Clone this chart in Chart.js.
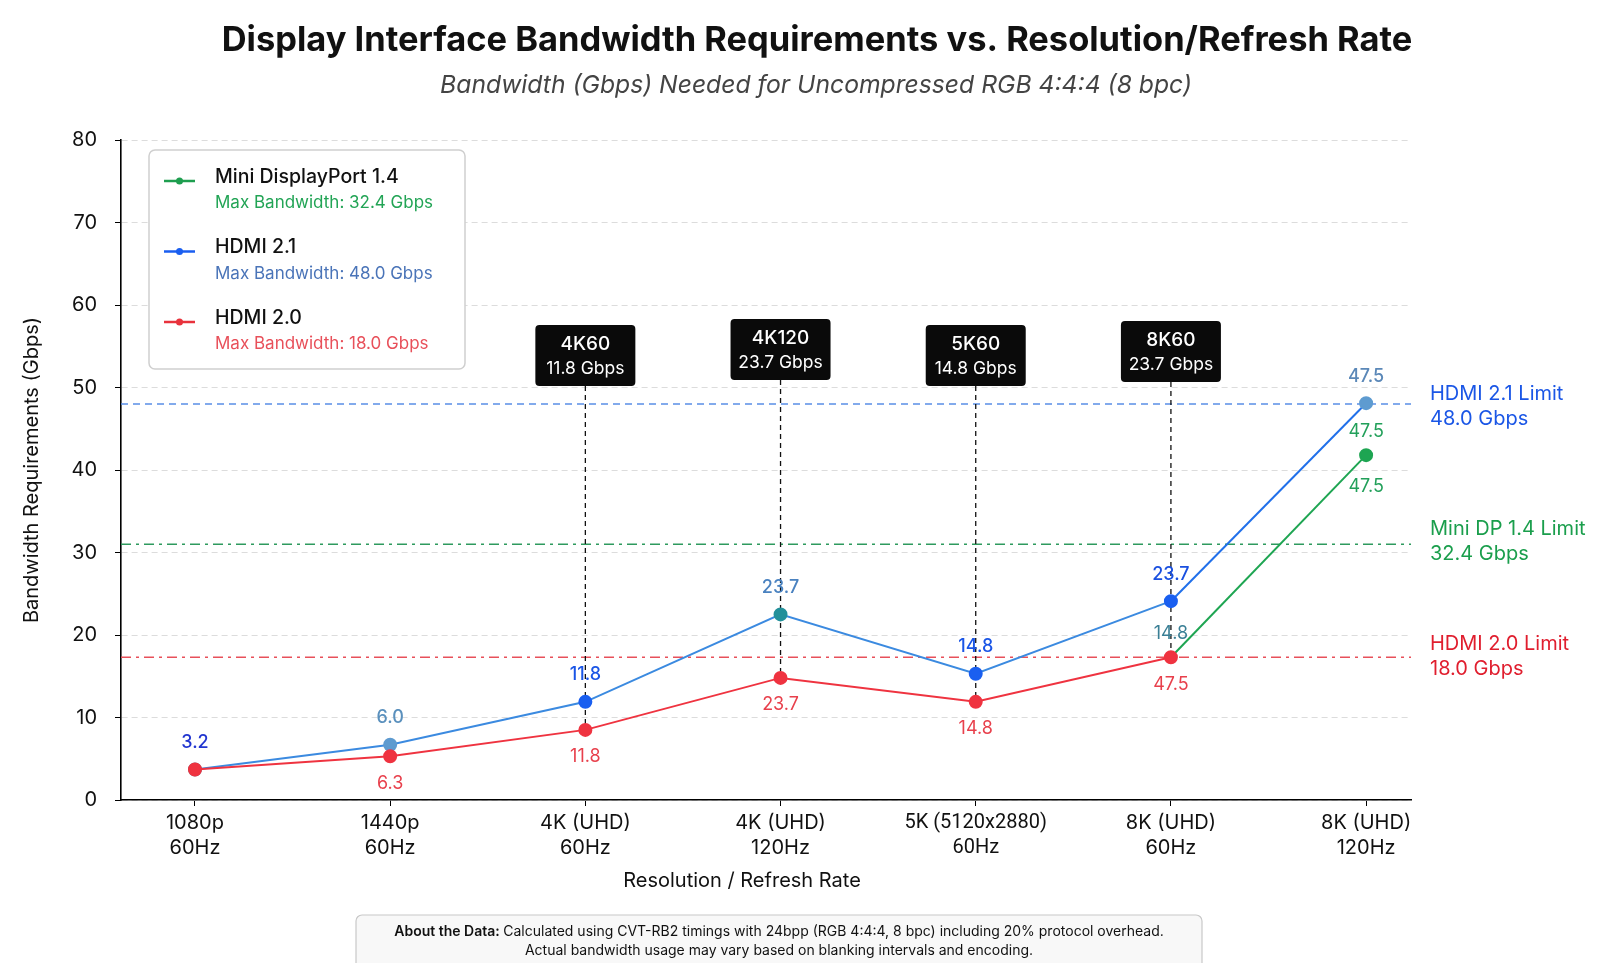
<!DOCTYPE html>
<html>
<head>
<meta charset="utf-8">
<script src="https://cdn.jsdelivr.net/npm/chart.js@4.4.1/dist/chart.umd.min.js"></script>
<style>
  html, body { margin: 0; padding: 0; background: #fff; }
  #wrap { width: 1600px; height: 963px; position: relative; overflow: hidden; }
</style>
</head>
<body>
<div id="wrap"><canvas id="chart" width="1600" height="963"></canvas></div>
<script>
// categories on the x axis (two-line labels)
const categories = [
  ['1080p', '60Hz'], ['1440p', '60Hz'], ['4K (UHD)', '60Hz'], ['4K (UHD)', '120Hz'],
  ['5K (5120x2880)', '60Hz'], ['8K (UHD)', '60Hz'], ['8K (UHD)', '120Hz']
];

// plotted values (Gbps)
const hdmi21 = [3.7, 6.7, 11.9, 22.5, 15.3, 24.1, 48.1];
const hdmi20 = [3.7, 5.3, 8.5, 14.8, 11.9, 17.3, null];
const miniDp = [null, null, null, null, null, 17.3, 41.8];

// printed labels next to points
const hdmi21Labels = ['3.2', '6.0', '11.8', '23.7', '14.8', '23.7', '47.5'];
const hdmi20Labels = [null, '6.3', '11.8', '23.7', '14.8', '47.5', null];
const miniDpLabelsAbove = [null, null, null, null, null, '14.8', '47.5'];
const miniDpLabelsBelow = [null, null, null, null, null, null, '47.5'];

// limit lines
const limitNames = ['HDMI 2.1 Limit', 'Mini DP 1.4 Limit', 'HDMI 2.0 Limit'];
const limitTexts = ['48.0 Gbps', '32.4 Gbps', '18.0 Gbps'];
const limitValues = [48.0, 31.0, 17.3];

// callout boxes
const calloutIndex = [2, 3, 4, 5];
const calloutTitles = ['4K60', '4K120', '5K60', '8K60'];
const calloutValues = ['11.8 Gbps', '23.7 Gbps', '14.8 Gbps', '23.7 Gbps'];

// legend
const legendNames = ['Mini DisplayPort 1.4', 'HDMI 2.1', 'HDMI 2.0'];
const legendMax = ['Max Bandwidth: 32.4 Gbps', 'Max Bandwidth: 48.0 Gbps', 'Max Bandwidth: 18.0 Gbps'];

const FONT = 'Inter, "Noto Sans", sans-serif';
const GREEN = '#1ea552', BLUE = '#3b8ae0', RED = '#ef3340';
const calloutTop = [325, 319, 325, 321];

function pts(arr) { return arr.map((v, i) => ({ x: i, y: v })); }

function fitFont(ctx, text, style, target, size) {
  ctx.font = style + ' ' + size + 'px ' + FONT;
  const w = ctx.measureText(text).width;
  return size * target / w;
}

// Inter swaps "x" between digits for a times sign, so such labels use Roboto
function tickFont(c) {
  const cat = c && c.index !== undefined ? categories[c.index] : null;
  const odd = cat && /\dx\d/.test(cat[0]);
  return { family: odd ? 'Roboto, sans-serif' : FONT, size: 20, lineHeight: 1.25 };
}

const extras = {
  id: 'extras',
  beforeDatasetsDraw(chart) {
    const ctx = chart.ctx, area = chart.chartArea, y = chart.scales.y;
    const limitColors = ['#5a8fe6', '#2e9a5e', '#e8505a'];
    const limitDash = [[7, 5], [10, 5, 3, 5], [10, 5, 3, 5]];
    ctx.save();
    limitValues.forEach((v, i) => {
      const py = y.getPixelForValue(v);
      ctx.strokeStyle = limitColors[i];
      ctx.lineWidth = 1.4;
      ctx.setLineDash(limitDash[i]);
      ctx.beginPath(); ctx.moveTo(area.left, py); ctx.lineTo(area.right, py); ctx.stroke();
    });
    // callout leader lines
    const redMeta = chart.getDatasetMeta(0);
    ctx.strokeStyle = '#111';
    ctx.lineWidth = 1.3;
    ctx.setLineDash([5, 4]);
    calloutIndex.forEach((idx, k) => {
      const p = redMeta.data[idx];
      ctx.beginPath(); ctx.moveTo(p.x, calloutTop[k] + 61); ctx.lineTo(p.x, p.y); ctx.stroke();
    });
    ctx.restore();
  },
  afterDatasetsDraw(chart) {
    const ctx = chart.ctx;
    ctx.save();
    ctx.textAlign = 'center';
    ctx.textBaseline = 'middle';
    const redMeta = chart.getDatasetMeta(0);
    const blueMeta = chart.getDatasetMeta(1);
    const greenMeta = chart.getDatasetMeta(2);
    const blueLabelColors = ['#2236d0', '#5a90bd', '#1a55e6', '#4a82c0', '#1a55e6', '#1a50e0', '#5b88b8'];
    hdmi21Labels.forEach((t, i) => {
      if (!t) return;
      const p = blueMeta.data[i];
      ctx.font = '500 18px ' + FONT;
      ctx.fillStyle = blueLabelColors[i];
      ctx.fillText(t, p.x, p.y - 27);
    });
    hdmi20Labels.forEach((t, i) => {
      if (!t) return;
      const p = redMeta.data[i];
      ctx.font = '18px ' + FONT;
      ctx.fillStyle = '#e8404c';
      ctx.fillText(t, p.x, p.y + 27);
    });
    miniDpLabelsAbove.forEach((t, i) => {
      if (!t) return;
      const p = greenMeta.data[i];
      ctx.font = '18px ' + FONT;
      ctx.fillStyle = i === 5 ? '#3a7f95' : '#22a05a';
      ctx.fillText(t, p.x, p.y - 24);
    });
    miniDpLabelsBelow.forEach((t, i) => {
      if (!t) return;
      const p = greenMeta.data[i];
      ctx.font = '18px ' + FONT;
      ctx.fillStyle = '#22a05a';
      ctx.fillText(t, p.x, p.y + 31);
    });
    ctx.restore();
  },
  afterDraw(chart) {
    const ctx = chart.ctx;
    ctx.save();
    ctx.textBaseline = 'middle';
    ctx.textAlign = 'center';

    // title + subtitle
    const title = 'Display Interface Bandwidth Requirements vs. Resolution/Refresh Rate';
    const ts = fitFont(ctx, title, '700', 1191, 32);
    ctx.font = '700 ' + ts + 'px ' + FONT;
    ctx.fillStyle = '#111';
    ctx.fillText(title, 817, 41);
    const sub = 'Bandwidth (Gbps) Needed for Uncompressed RGB 4:4:4 (8 bpc)';
    const ss = fitFont(ctx, sub, 'italic', 752, 23);
    ctx.font = 'italic ' + ss + 'px ' + FONT;
    ctx.fillStyle = '#444';
    ctx.fillText(sub, 816, 86);

    // x axis title
    ctx.font = '20px ' + FONT;
    ctx.fillStyle = '#111';
    ctx.fillText('Resolution / Refresh Rate', 742, 881);

    // callout boxes
    const redMeta = chart.getDatasetMeta(0);
    calloutIndex.forEach((idx, k) => {
      const cx = redMeta.data[idx].x;
      const top = calloutTop[k], w = 100, h = 61;
      ctx.fillStyle = '#0a0a0a';
      ctx.beginPath(); ctx.roundRect(cx - w / 2, top, w, h, 4); ctx.fill();
      ctx.fillStyle = '#fff';
      ctx.font = '500 19px ' + FONT;
      ctx.fillText(calloutTitles[k], cx, top + 19);
      ctx.font = '17.5px ' + FONT;
      ctx.fillText(calloutValues[k], cx, top + 44);
    });

    // limit labels on the right
    const limitTextColors = ['#1a56e6', '#1a9e4c', '#e01e2e'];
    const limitLabelY = [394, 529, 644];
    ctx.textAlign = 'left';
    ctx.font = '20px ' + FONT;
    limitNames.forEach((n, i) => {
      ctx.fillStyle = limitTextColors[i];
      ctx.fillText(n, 1430, limitLabelY[i]);
      ctx.fillText(limitTexts[i], 1430, limitLabelY[i] + 25);
    });

    // legend box
    ctx.fillStyle = '#fff';
    ctx.strokeStyle = '#cfcfcf';
    ctx.lineWidth = 1.5;
    ctx.beginPath(); ctx.roundRect(149, 150, 316, 219, 6); ctx.fill(); ctx.stroke();
    const lgLine = ['#1e9e4f', '#1a5ef0', '#e8323c'];
    const lgSub = ['#22a455', '#4a74b8', '#e8505a'];
    legendNames.forEach((n, i) => {
      const ly = 177 + i * 70.5;
      ctx.strokeStyle = lgLine[i];
      ctx.lineWidth = 2.5;
      ctx.beginPath(); ctx.moveTo(164, ly + 4); ctx.lineTo(195, ly + 4); ctx.stroke();
      ctx.fillStyle = lgLine[i];
      ctx.beginPath(); ctx.arc(179.5, ly + 4, 3.5, 0, Math.PI * 2); ctx.fill();
      ctx.fillStyle = '#111';
      ctx.font = '500 19.5px ' + FONT;
      ctx.fillText(n, 215, ly);
      ctx.fillStyle = lgSub[i];
      ctx.font = '17px ' + FONT;
      ctx.fillText(legendMax[i], 215, ly + 26);
    });

    // footer note
    ctx.fillStyle = '#f8f8f8';
    ctx.strokeStyle = '#c8c8c8';
    ctx.lineWidth = 1.2;
    ctx.beginPath(); ctx.roundRect(356, 915, 846, 70, 6); ctx.fill(); ctx.stroke();
    const b = 'About the Data: ';
    const r = 'Calculated using CVT-RB2 timings with 24bpp (RGB 4:4:4, 8 bpc) including 20% protocol overhead.';
    ctx.font = '600 14px ' + FONT;
    const bw = ctx.measureText(b).width;
    ctx.font = '14px ' + FONT;
    const rw = ctx.measureText(r).width;
    const x0 = 779 - (bw + rw) / 2;
    ctx.textAlign = 'left';
    ctx.fillStyle = '#111';
    ctx.font = '600 14px ' + FONT;
    ctx.fillText(b, x0, 932);
    ctx.font = '14px ' + FONT;
    ctx.fillText(r, x0 + bw, 932);
    ctx.textAlign = 'center';
    ctx.fillText('Actual bandwidth usage may vary based on blanking intervals and encoding.', 779, 951);
    ctx.restore();
  }
};

new Chart(document.getElementById('chart'), {
  type: 'line',
  data: {
    datasets: [
      {
        label: 'HDMI 2.0', data: pts(hdmi20),
        borderColor: RED, backgroundColor: RED, pointBackgroundColor: RED, pointBorderColor: RED,
        borderWidth: 2, pointRadius: 6, pointHoverRadius: 6, spanGaps: false
      },
      {
        label: 'HDMI 2.1', data: pts(hdmi21),
        borderColor: BLUE, backgroundColor: BLUE,
        pointBackgroundColor: ['#62809a', '#5e9bd0', '#1a5ff0', '#23909a', '#1a5ff0', '#1a5ff0', '#5e9bd0'],
        pointBorderColor: ['#62809a', '#5e9bd0', '#1a5ff0', '#23909a', '#1a5ff0', '#1a5ff0', '#5e9bd0'],
        borderWidth: 2, pointRadius: 6, pointHoverRadius: 6,
        segment: { borderColor: c => c.p0DataIndex === 5 ? '#2170ea' : BLUE }
      },
      {
        label: 'Mini DisplayPort 1.4', data: pts(miniDp),
        borderColor: GREEN, backgroundColor: GREEN, pointBackgroundColor: GREEN, pointBorderColor: GREEN,
        borderWidth: 2, pointRadius: c => c.dataIndex === 5 ? 0 : 6, pointHoverRadius: 6, spanGaps: false
      }
    ]
  },
  options: {
    responsive: false,
    animation: false,
    devicePixelRatio: 1,
    layout: { padding: { top: 140, right: 189, bottom: 0, left: 0 } },
    plugins: { legend: { display: false }, tooltip: { enabled: false }, title: { display: false } },
    scales: {
      x: {
        type: 'linear', min: -0.379, max: 6.23,
        afterFit: s => { s.height = 163; },
        afterBuildTicks: s => { s.ticks = categories.map((c, i) => ({ value: i })); },
        ticks: {
          callback: v => categories[v], autoSkip: false, maxRotation: 0, padding: 4,
          color: '#111', font: tickFont
        },
        grid: { drawOnChartArea: false, drawTicks: true, tickLength: 6, tickColor: '#000' },
        border: { color: '#000', width: 1.6 }
      },
      y: {
        min: 0, max: 80,
        afterFit: s => { s.width = 121; },
        ticks: { stepSize: 10, padding: 18, color: '#111', font: { family: FONT, size: 20 } },
        grid: { color: '#dcdcdc', lineWidth: 1, drawTicks: true, tickLength: 6, tickColor: '#000' },
        border: { color: '#000', width: 1.6, dash: [6, 4] },
        title: {
          display: true, text: 'Bandwidth Requirements (Gbps)', color: '#111',
          font: { family: FONT, size: 20 }, padding: { top: 20, bottom: 0 }
        }
      }
    }
  },
  plugins: [extras]
});
</script>
</body>
</html>
